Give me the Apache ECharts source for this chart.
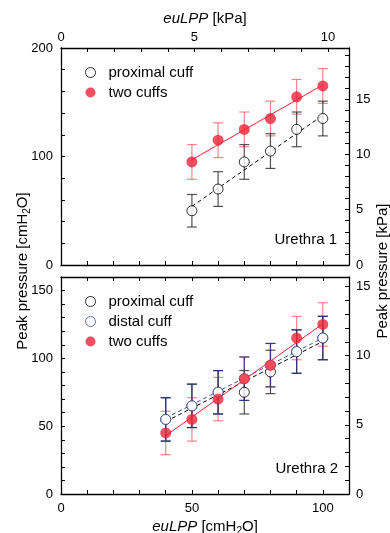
<!DOCTYPE html>
<html><head><meta charset="utf-8">
<script src="https://cdn.jsdelivr.net/npm/echarts@6/dist/echarts.min.js"></script>
<style>html,body{margin:0;padding:0;background:#fff}#c{width:390px;height:533px}</style>
</head><body><div id="c"></div>
<script>
// ---- data (cmH2O) ----
const KPA = 10.197; // cmH2O per kPa (axis conversion)
// Urethra 1
const u1X = [50, 60, 70, 80, 90, 100];
const u1Proximal = [50, 70, 95, 105, 125, 135];
const u1ProximalErr = [15, 16, 16, 16, 16, 16];
const u1Two = [95, 115, 125, 135, 155, 165];
const u1TwoErr = [16, 16, 16, 16, 16, 16];
const u1ProximalFit = [[50, 54], [100, 138]];
const u1TwoFit = [[50, 97], [100, 166]];
// Urethra 2
const u2X = [40, 50, 60, 70, 80, 90, 100];
const u2Proximal = [55, 65, 75, 75, 90, 105, 115];
const u2ProximalErr = [16, 16, 16, 16, 16, 16, 16];
const u2Distal = [55, 65, 75, 85, 95, 105, 115];
const u2DistalErr = [16, 16, 16, 16, 16, 16, 16];
const u2Two = [45, 55, 70, 85, 95, 115, 125];
const u2TwoErr = [16, 16, 16, 16, 16, 16, 16];
const u2ProximalFit = [[40, 53.5], [100, 112.5]];
const u2DistalFit = [[40, 56], [100, 115]];
const u2TwoFit = [[40, 43], [100, 125.5]];
// axis ranges / tick labels
const xMax = 110;
const y1Max = 200, y2Max = 160;
const xLabelStep = 50, y1LabelStep = 100, y2LabelStep = 50, kpaLabelStep = 5;

const FONT = 'Liberation Sans, Arial, sans-serif';
const BLACK = '#000';
const RED = '#ef2438';
const RED_ERR = 'rgba(238,50,65,0.6)';
const GRAY_ERR = 'rgba(40,40,40,0.8)';
const BLUE = '#3a4f9e';
const BLUE_ERR = 'rgba(35,50,120,0.9)';

function pts(xs, ys, es) { return xs.map((x, i) => es ? [x, ys[i], es[i]] : [x, ys[i]]); }

function errSeries(xi, yi, data, color, z) {
  return {
    type: 'custom', coordinateSystem: 'cartesian2d', xAxisIndex: xi, yAxisIndex: yi, z: z || 2, silent: true,
    data: data,
    renderItem: function (params, api) {
      const x = api.value(0), y = api.value(1), e = api.value(2);
      const t = api.coord([x, y + e]), b = api.coord([x, y - e]);
      const w = 5;
      const st = { stroke: color, lineWidth: 1.2 };
      return { type: 'group', children: [
        { type: 'line', shape: { x1: t[0], y1: t[1], x2: b[0], y2: b[1] }, style: st },
        { type: 'line', shape: { x1: t[0] - w, y1: t[1], x2: t[0] + w, y2: t[1] }, style: st },
        { type: 'line', shape: { x1: b[0] - w, y1: b[1], x2: b[0] + w, y2: b[1] }, style: st }
      ]};
    }
  };
}
function fitSeries(xi, yi, data, color, dashed) {
  return { type: 'line', xAxisIndex: xi, yAxisIndex: yi, data: data, symbol: 'none', silent: true, z: 3,
    lineStyle: { color: color, width: 1, type: dashed ? [4, 3] : 'solid' } };
}
function dotSeries(name, xi, yi, data, color, empty) {
  return { type: 'scatter', name: name, xAxisIndex: xi, yAxisIndex: yi, data: data, z: 5,
    symbol: 'circle', symbolSize: empty ? 10 : 11,
    itemStyle: empty ? { color: '#fff', borderColor: color, borderWidth: 1 } : { color: color } };
}

const tickStyle = { show: true, inside: true, length: 4, lineStyle: { color: BLACK, width: 1 } };
const lineStyle = { show: true, onZero: false, lineStyle: { color: BLACK, width: 1.3 } };
const labStyle = (step, show, margin) => ({ show: show, color: BLACK, fontSize: 13, fontFamily: FONT, margin: margin,
  showMaxLabel: true, showMinLabel: true,
  formatter: v => (Math.abs(v / step - Math.round(v / step)) < 1e-6 ? String(Math.round(v)) : '') });

function ax(grid, pos, max, interval, step, show, margin, extra) {
  return Object.assign({ type: 'value', gridIndex: grid, position: pos, min: 0, max: max, interval: interval,
    axisLine: lineStyle, axisTick: tickStyle, axisLabel: labStyle(step, show, margin), splitLine: { show: false } }, extra || {});
}

const option = {
  animation: false,
  backgroundColor: '#fff',
  textStyle: { fontFamily: FONT },
  grid: [
    { left: 61, top: 48, width: 288, height: 217, outerBoundsMode: 'none', containLabel: false },
    { left: 61, top: 277, width: 288, height: 217, outerBoundsMode: 'none', containLabel: false }
  ],
  xAxis: [
    ax(0, 'bottom', xMax, 10, xLabelStep, false, 6),
    ax(0, 'top', xMax / KPA, 1, kpaLabelStep, true, 4, { name: '{i|euLPP} [kPa]', nameLocation: 'middle', nameGap: 22,
      nameTextStyle: { color: BLACK, fontSize: 15, fontFamily: FONT, rich: { i: { fontStyle: 'italic', fontSize: 15, fontFamily: FONT, color: BLACK } } } }),
    ax(1, 'top', xMax, 10, xLabelStep, false, 6),
    ax(1, 'bottom', xMax, 10, xLabelStep, true, 8, { name: '{i|euLPP} [cmH{s|2}O]', nameLocation: 'middle', nameGap: 24,
      nameTextStyle: { color: BLACK, fontSize: 15, fontFamily: FONT,
        rich: { i: { fontStyle: 'italic', fontSize: 15, fontFamily: FONT, color: BLACK },
                s: { fontSize: 10, fontFamily: FONT, color: BLACK, verticalAlign: 'bottom', padding: [8, 0, 0, 0] } } } })
  ],
  yAxis: [
    ax(0, 'left', y1Max, 20, y1LabelStep, true, 8),
    ax(0, 'right', y1Max / KPA, 1, kpaLabelStep, true, 7),
    ax(1, 'left', y2Max, 10, y2LabelStep, true, 8),
    ax(1, 'right', y2Max / KPA, 1, kpaLabelStep, true, 7)
  ],
  legend: [
    { left: 80, top: 60, orient: 'vertical', itemGap: 5, itemWidth: 10, itemHeight: 10, selectedMode: false,
      textStyle: { fontSize: 15, fontFamily: FONT, color: BLACK, padding: [0, 0, 0, 8] },
      data: [
        { name: 'proximal cuff', icon: 'circle', itemStyle: { color: '#fff', borderColor: BLACK, borderWidth: 1 } },
        { name: 'two cuffs', icon: 'circle', itemStyle: { color: RED } }
      ] },
    { left: 80, top: 289, orient: 'vertical', itemGap: 5, itemWidth: 10, itemHeight: 10, selectedMode: false,
      textStyle: { fontSize: 15, fontFamily: FONT, color: BLACK, padding: [0, 0, 0, 8] },
      data: [
        { name: 'proximal cuff', icon: 'circle', itemStyle: { color: '#fff', borderColor: BLACK, borderWidth: 1 } },
        { name: 'distal cuff', icon: 'circle', itemStyle: { color: '#fff', borderColor: BLUE, borderWidth: 1 } },
        { name: 'two cuffs', icon: 'circle', itemStyle: { color: RED } }
      ] }
  ],
  graphic: [
    { type: 'text', x: 23, y: 271, rotation: Math.PI / 2, style: { text: 'Peak pressure [cmH{s|2}O]', fill: BLACK,
      fontSize: 15, fontFamily: FONT, align: 'center', verticalAlign: 'middle',
      rich: { s: { fontSize: 10, fontFamily: FONT, fill: BLACK, verticalAlign: 'bottom', padding: [8, 0, 0, 0] } } } },
    { type: 'text', x: 383, y: 271, rotation: Math.PI / 2, style: { text: 'Peak pressure [kPa]', fill: BLACK,
      fontSize: 15, fontFamily: FONT, align: 'center', verticalAlign: 'middle' } },
    { type: 'text', x: 337, y: 240, style: { text: 'Urethra 1', fill: BLACK, fontSize: 15, fontFamily: FONT, align: 'right', verticalAlign: 'middle' } },
    { type: 'text', x: 338, y: 469, style: { text: 'Urethra 2', fill: BLACK, fontSize: 15, fontFamily: FONT, align: 'right', verticalAlign: 'middle' } }
  ],
  series: [
    errSeries(0, 0, pts(u1X, u1Two, u1TwoErr), RED_ERR, 2),
    errSeries(0, 0, pts(u1X, u1Proximal, u1ProximalErr), GRAY_ERR, 2),
    fitSeries(0, 0, u1ProximalFit, BLACK, true),
    fitSeries(0, 0, u1TwoFit, RED, false),
    dotSeries('proximal cuff', 0, 0, pts(u1X, u1Proximal), BLACK, true),
    dotSeries('two cuffs', 0, 0, pts(u1X, u1Two), RED, false),

    errSeries(3, 2, pts(u2X, u2Proximal, u2ProximalErr), GRAY_ERR, 2),
    errSeries(3, 2, pts(u2X, u2Two, u2TwoErr), RED_ERR, 2),
    errSeries(3, 2, pts(u2X, u2Distal, u2DistalErr), BLUE_ERR, 2),
    fitSeries(3, 2, u2ProximalFit, BLACK, true),
    fitSeries(3, 2, u2DistalFit, BLUE, true),
    fitSeries(3, 2, u2TwoFit, RED, false),
    dotSeries('proximal cuff', 3, 2, pts(u2X, u2Proximal), BLACK, true),
    dotSeries('distal cuff', 3, 2, pts(u2X, u2Distal), BLUE, true),
    dotSeries('two cuffs', 3, 2, pts(u2X, u2Two), RED, false)
  ]
};
const chart = echarts.init(document.getElementById('c'), null, { renderer: 'canvas' });
chart.setOption(option);
</script></body></html>
